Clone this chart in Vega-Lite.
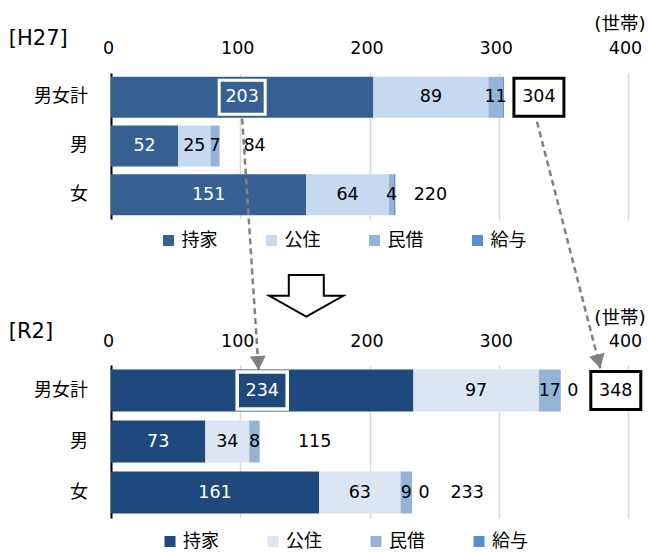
{
  "$schema": "https://vega.github.io/schema/vega-lite/v6.json",
  "padding": {"left": 8, "top": 14, "right": 0, "bottom": 0},
  "bounds": "flush",
  "spacing": 146,
  "config": {
    "view": {"stroke": null},
    "font": "DejaVu Sans",
    "text": {"font": "DejaVu Sans", "fontSize": 17.5}
  },
  "datasets": {
    "h27": [
      {"cat": "男女計", "type": "持家", "value": 203, "ord": 1, "text": "203"},
      {"cat": "男女計", "type": "公住", "value": 89, "ord": 2, "text": "89"},
      {"cat": "男女計", "type": "民借", "value": 11, "ord": 3, "text": "11"},
      {"cat": "男女計", "type": "給与", "value": 1, "ord": 4, "text": null},
      {"cat": "男", "type": "持家", "value": 52, "ord": 1, "text": "52"},
      {"cat": "男", "type": "公住", "value": 25, "ord": 2, "text": "25"},
      {"cat": "男", "type": "民借", "value": 7, "ord": 3, "text": "7"},
      {"cat": "男", "type": "給与", "value": 0, "ord": 4, "text": null},
      {"cat": "女", "type": "持家", "value": 151, "ord": 1, "text": "151"},
      {"cat": "女", "type": "公住", "value": 64, "ord": 2, "text": "64"},
      {"cat": "女", "type": "民借", "value": 4, "ord": 3, "text": "4"},
      {"cat": "女", "type": "給与", "value": 1, "ord": 4, "text": null}
    ],
    "h27tot": [
      {"cat": "男女計", "total": 304},
      {"cat": "男", "total": 84},
      {"cat": "女", "total": 220}
    ],
    "r2": [
      {"cat": "男女計", "type": "持家", "value": 234, "ord": 1, "text": "234"},
      {"cat": "男女計", "type": "公住", "value": 97, "ord": 2, "text": "97"},
      {"cat": "男女計", "type": "民借", "value": 17, "ord": 3, "text": "17"},
      {"cat": "男女計", "type": "給与", "value": 0, "ord": 4, "text": "0"},
      {"cat": "男", "type": "持家", "value": 73, "ord": 1, "text": "73"},
      {"cat": "男", "type": "公住", "value": 34, "ord": 2, "text": "34"},
      {"cat": "男", "type": "民借", "value": 8, "ord": 3, "text": "8"},
      {"cat": "男", "type": "給与", "value": 0, "ord": 4, "text": null},
      {"cat": "女", "type": "持家", "value": 161, "ord": 1, "text": "161"},
      {"cat": "女", "type": "公住", "value": 63, "ord": 2, "text": "63"},
      {"cat": "女", "type": "民借", "value": 9, "ord": 3, "text": "9"},
      {"cat": "女", "type": "給与", "value": 0, "ord": 4, "text": "0"}
    ],
    "r2tot": [
      {"cat": "男女計", "total": 348},
      {"cat": "男", "total": 115},
      {"cat": "女", "total": 233}
    ],
    "arrows": [
      {"arrow": "a", "seq": 1, "x": 101.5, "y": -4.83},
      {"arrow": "a", "seq": 2, "x": 114.2, "y": 0.098},
      {"arrow": "b", "seq": 1, "x": 329.6, "y": -4.77},
      {"arrow": "b", "seq": 2, "x": 378.6, "y": 0.065}
    ],
    "block": [
      {"x": 151.1, "y": -1.357}
    ]
  },
  "resolve": {"scale": {"color": "independent"}, "legend": {"color": "independent"}},
  "vconcat": [
    {
      "width": 517,
      "height": 146,
      "encoding": {
        "y": {
          "field": "cat", "type": "nominal", "sort": ["男女計", "男", "女"],
          "scale": {"paddingInner": 0.158, "paddingOuter": 0.079},
          "axis": {
            "orient": "left", "domain": true, "domainColor": "#000", "domainWidth": 2,
            "ticks": false, "tickSize": 0, "grid": false,
            "labelFont": "Noto Sans CJK JP", "labelFontSize": 18, "labelColor": "#000", "labelPadding": 23.4,
            "title": "[H27]", "titleAngle": 0, "titleX": -102.7, "titleY": -35, "titleAlign": "left", "titleBaseline": "middle",
            "titleFont": "DejaVu Sans", "titleFontSize": 21, "titleFontWeight": "normal", "titleColor": "#000"
          }
        }
      },
      "layer": [
        {
          "data": {"name": "h27"},
          "transform": [{"stack": "value", "groupby": ["cat"], "sort": [{"field": "ord", "order": "ascending"}], "as": ["v0", "v1"]}],
          "mark": {"type": "bar"},
          "encoding": {
            "x": {
              "field": "v0", "type": "quantitative", "scale": {"domain": [0, 400], "nice": false},
              "axis": {
                "orient": "top", "values": [0, 100, 200, 300, 400], "domain": false, "ticks": false, "tickSize": 0,
                "grid": true, "gridColor": "#D9D9D9", "gridWidth": 1.5,
                "labelFont": "DejaVu Sans", "labelFontSize": 17.5, "labelColor": "#000", "labelPadding": 24.5,
                "labelBaseline": "middle", "labelOffset": -3, "labelFlush": false,
                "title": "(世帯)", "titleFont": "DejaVu Sans, Noto Sans CJK JP", "titleFontSize": 18.5, "titleFontWeight": "normal",
                "titleColor": "#000", "titleX": 534.3, "titleY": -49.7, "titleAlign": "right", "titleBaseline": "middle"
              }
            },
            "x2": {"field": "v1"},
            "color": {
              "field": "type", "type": "nominal",
              "scale": {"domain": ["持家", "公住", "民借", "給与"], "range": ["#376092", "#C6D9F1", "#95B3D7", "#558ED5"]},
              "legend": {
                "orient": "none", "legendX": 48.5, "legendY": 158.5, "direction": "horizontal", "title": null,
                "symbolType": "square", "symbolSize": 121, "symbolStrokeWidth": 0,
                "labelFont": "Noto Sans CJK JP", "labelFontSize": 18, "labelColor": "#000", "labelOffset": 4,
                "columnPadding": 45, "padding": 0
              }
            }
          }
        },
        {
          "data": {"name": "h27"},
          "transform": [
            {"stack": "value", "groupby": ["cat"], "sort": [{"field": "ord", "order": "ascending"}], "as": ["v0", "v1"]},
            {"calculate": "(datum.v0 + datum.v1) / 2", "as": "mid"},
            {"filter": "datum.cat === '男女計' && datum.type === '持家'"}
          ],
          "mark": {"type": "point", "shape": "M-1,-0.74H1V0.74H-1Z", "size": 2116, "filled": true, "fill": "#376092", "stroke": "white", "strokeWidth": 3, "opacity": 1},
          "encoding": {"x": {"field": "mid", "type": "quantitative"}}
        },
        {
          "data": {"name": "h27"},
          "transform": [
            {"stack": "value", "groupby": ["cat"], "sort": [{"field": "ord", "order": "ascending"}], "as": ["v0", "v1"]},
            {"calculate": "(datum.v0 + datum.v1) / 2", "as": "mid"},
            {"filter": "datum.text != null"}
          ],
          "mark": {"type": "text", "font": "DejaVu Sans", "fontSize": 17.5, "baseline": "middle", "align": "center"},
          "encoding": {
            "x": {"field": "mid", "type": "quantitative"},
            "text": {"field": "text"},
            "color": {"condition": {"test": "datum.type === '持家'", "value": "white"}, "value": "black"}
          }
        },
        {
          "data": {"name": "h27tot"},
          "transform": [{"filter": "datum.cat === '男女計'"}],
          "mark": {"type": "point", "shape": "M-1,-0.76H1V0.76H-1Z", "size": 2500, "filled": true, "fill": "white", "stroke": "black", "strokeWidth": 3, "opacity": 1, "xOffset": 35},
          "encoding": {"x": {"field": "total", "type": "quantitative"}}
        },
        {
          "data": {"name": "h27tot"},
          "mark": {"type": "text", "font": "DejaVu Sans", "fontSize": 17.5, "baseline": "middle", "align": "center", "dx": 35, "color": "black"},
          "encoding": {"x": {"field": "total", "type": "quantitative"}, "text": {"field": "total"}}
        }
      ]
    },
    {
      "width": 517,
      "height": 153,
      "resolve": {"scale": {"y": "independent"}, "axis": {"y": "independent"}},
      "layer": [
        {
          "encoding": {
            "y": {
              "field": "cat", "type": "nominal", "sort": ["男女計", "男", "女"],
              "scale": {"paddingInner": 0.176, "paddingOuter": 0.088},
              "axis": {
                "orient": "left", "domain": true, "domainColor": "#000", "domainWidth": 2,
                "ticks": false, "tickSize": 0, "grid": false,
                "labelFont": "Noto Sans CJK JP", "labelFontSize": 18, "labelColor": "#000", "labelPadding": 23.4,
                "title": "[R2]", "titleAngle": 0, "titleX": -102.7, "titleY": -34, "titleAlign": "left", "titleBaseline": "middle",
                "titleFont": "DejaVu Sans", "titleFontSize": 21, "titleFontWeight": "normal", "titleColor": "#000"
              }
            }
          },
          "layer": [
            {
              "data": {"name": "r2"},
              "transform": [{"stack": "value", "groupby": ["cat"], "sort": [{"field": "ord", "order": "ascending"}], "as": ["v0", "v1"]}],
              "mark": {"type": "bar"},
              "encoding": {
                "x": {
                  "field": "v0", "type": "quantitative", "scale": {"domain": [0, 400], "nice": false},
                  "axis": {
                    "orient": "top", "values": [0, 100, 200, 300, 400], "domain": false, "ticks": false, "tickSize": 0,
                    "grid": true, "gridColor": "#D9D9D9", "gridWidth": 1.5,
                    "labelFont": "DejaVu Sans", "labelFontSize": 17.5, "labelColor": "#000", "labelPadding": 23.5,
                    "labelBaseline": "middle", "labelOffset": -3, "labelFlush": false,
                    "title": "(世帯)", "titleFont": "DejaVu Sans, Noto Sans CJK JP", "titleFontSize": 18.5, "titleFontWeight": "normal",
                    "titleColor": "#000", "titleX": 534.3, "titleY": -47.5, "titleAlign": "right", "titleBaseline": "middle"
                  }
                },
                "x2": {"field": "v1"},
                "color": {
                  "field": "type", "type": "nominal",
                  "scale": {"domain": ["持家", "公住", "民借", "給与"], "range": ["#1F497D", "#DCE6F2", "#95B3D7", "#558ED5"]},
                  "legend": {
                    "orient": "none", "legendX": 50, "legendY": 167.5, "direction": "horizontal", "title": null,
                    "symbolType": "square", "symbolSize": 121, "symbolStrokeWidth": 0,
                    "labelFont": "Noto Sans CJK JP", "labelFontSize": 18, "labelColor": "#000", "labelOffset": 4,
                    "columnPadding": 45, "padding": 0
                  }
                }
              }
            },
            {
              "data": {"name": "r2"},
              "transform": [
                {"stack": "value", "groupby": ["cat"], "sort": [{"field": "ord", "order": "ascending"}], "as": ["v0", "v1"]},
                {"calculate": "(datum.v0 + datum.v1) / 2", "as": "mid"},
                {"filter": "datum.cat === '男女計' && datum.type === '持家'"}
              ],
              "mark": {"type": "point", "shape": "M-1,-0.74H1V0.74H-1Z", "size": 2500, "filled": true, "fill": "#1F497D", "stroke": "white", "strokeWidth": 3.5, "opacity": 1},
              "encoding": {"x": {"field": "mid", "type": "quantitative"}}
            },
            {
              "data": {"name": "r2"},
              "transform": [
                {"stack": "value", "groupby": ["cat"], "sort": [{"field": "ord", "order": "ascending"}], "as": ["v0", "v1"]},
                {"calculate": "(datum.v0 + datum.v1) / 2", "as": "mid"},
                {"filter": "datum.text != null && datum.type !== '給与'"}
              ],
              "mark": {"type": "text", "font": "DejaVu Sans", "fontSize": 17.5, "baseline": "middle", "align": "center"},
              "encoding": {
                "x": {"field": "mid", "type": "quantitative"},
                "text": {"field": "text"},
                "color": {"condition": {"test": "datum.type === '持家'", "value": "white"}, "value": "black"}
              }
            },
            {
              "data": {"name": "r2"},
              "transform": [
                {"stack": "value", "groupby": ["cat"], "sort": [{"field": "ord", "order": "ascending"}], "as": ["v0", "v1"]},
                {"filter": "datum.text != null && datum.type === '給与'"}
              ],
              "mark": {"type": "text", "font": "DejaVu Sans", "fontSize": 17.5, "baseline": "middle", "align": "center", "dx": 12, "color": "black"},
              "encoding": {
                "x": {"field": "v1", "type": "quantitative"},
                "text": {"field": "text"}
              }
            },
            {
              "data": {"name": "r2tot"},
              "transform": [{"filter": "datum.cat === '男女計'"}],
              "mark": {"type": "point", "shape": "M-1,-0.76H1V0.76H-1Z", "size": 2500, "filled": true, "fill": "white", "stroke": "black", "strokeWidth": 3, "opacity": 1, "xOffset": 55},
              "encoding": {"x": {"field": "total", "type": "quantitative"}}
            },
            {
              "data": {"name": "r2tot"},
              "mark": {"type": "text", "font": "DejaVu Sans", "fontSize": 17.5, "baseline": "middle", "align": "center", "dx": 55, "color": "black"},
              "encoding": {"x": {"field": "total", "type": "quantitative"}, "text": {"field": "total"}}
            }
          ]
        },
        {
          "encoding": {
            "x": {"field": "x", "type": "quantitative"},
            "y": {"field": "y", "type": "quantitative", "scale": {"domain": [0, 3], "reverse": true, "nice": false, "zero": false}, "axis": null}
          },
          "layer": [
            {
              "data": {"name": "arrows"},
              "mark": {"type": "line", "color": "#808080", "strokeWidth": 2.5, "strokeDash": [6, 4]},
              "encoding": {
                "detail": {"field": "arrow"},
                "order": {"field": "seq"}
              }
            },
            {
              "data": {"name": "arrows"},
              "transform": [{"filter": "datum.seq === 2 && datum.arrow === 'a'"}],
              "mark": {"type": "point", "shape": "M0,0L-1,-1.75L1,-1.75Z", "size": 256, "filled": true, "color": "#808080", "opacity": 1, "angle": -3.4},
              "encoding": {}
            },
            {
              "data": {"name": "arrows"},
              "transform": [{"filter": "datum.seq === 2 && datum.arrow === 'b'"}],
              "mark": {"type": "point", "shape": "M0,0L-1,-1.75L1,-1.75Z", "size": 256, "filled": true, "color": "#808080", "opacity": 1, "angle": -14.4},
              "encoding": {}
            },
            {
              "data": {"name": "block"},
              "mark": {"type": "point", "shape": "M-0.473,-0.564H0.473V0H1L0,0.564L-1,0H-0.473Z", "size": 5476, "filled": true, "fill": "white", "stroke": "black", "strokeWidth": 2, "opacity": 1},
              "encoding": {}
            }
          ]
        }
      ]
    }
  ]
}
